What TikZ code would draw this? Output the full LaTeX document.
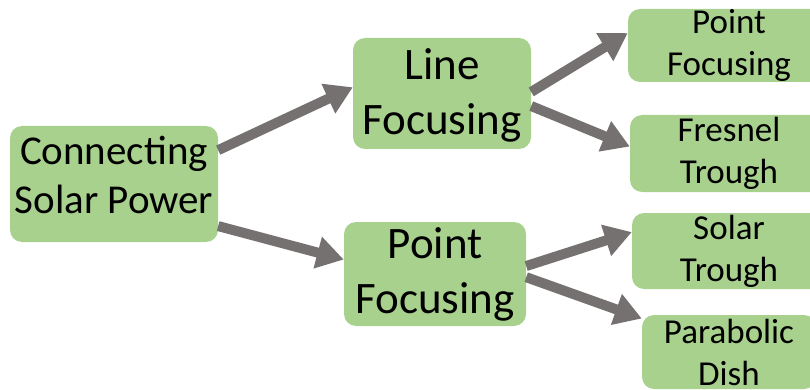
\documentclass[tikz,border=0pt]{standalone}
\usepackage{fontspec}
\setmainfont{Carlito}
\usetikzlibrary{arrows.meta}

\definecolor{boxgreen}{HTML}{A9D18E}
\definecolor{arrowgray}{HTML}{767171}

\tikzset{
  box/.style={rectangle, rounded corners=12pt, fill=boxgreen, draw=none,
    align=center, inner sep=0pt, text=black},
  rootbox/.style={box, minimum width=208pt, minimum height=116pt,
    font=\fontsize{41}{49}\selectfont},
  midbox/.style={box, minimum width=180pt, minimum height=108pt,
    font=\fontsize{45}{55}\selectfont},
  leafbox/.style={box, minimum height=75pt,
    font=\fontsize{35}{42}\selectfont},
  flow/.style={draw=arrowgray, line width=10pt,
    -{Triangle[length=27pt,width=31pt]}, arrowgray}
}

\begin{document}
\begin{tikzpicture}[x=1pt, y=-1pt]
  \clip (0,0) rectangle (810,390);
  \useasboundingbox (0,0) rectangle (810,390);

  % root of the tree (extra text depth lifts the two lines a little)
  \node[rootbox, text depth=18pt] (root) at (114,184) {Connecting\\Solar Power};

  % two families of collectors
  \node[midbox, minimum width=178pt, minimum height=111pt, text depth=3pt] (line) at (442,93.5) {Line\\Focusing};
  \node[midbox, minimum width=182pt, minimum height=104pt] (point) at (435,274) {Point\\Focusing};

  % individual technologies
  \node[leafbox, minimum width=202pt, minimum height=73pt] (pf) at (729,45.5) {Point\\Focusing};
  \node[leafbox, minimum width=198pt, minimum height=77pt] (fresnel) at (729,153.5) {Fresnel\\Trough};
  \node[leafbox, minimum width=194pt, minimum height=76pt] (solar) at (729,251) {Solar\\Trough};
  \node[leafbox, minimum width=174pt, minimum height=74pt] (dish) at (729,352) {Parabolic\\Dish};

  % connectors
  \draw[flow] (root.18) -- (line.176);
  \draw[flow] (root.-22.5) -- (point.171);
  \draw[flow] (line.1) -- (pf.173);
  \draw[flow] (line.-8.6) -- (fresnel.176);
  \draw[flow] (point.5.6) -- (solar.169.6);
  \draw[flow] (point.-2.5) -- (dish.159);
\end{tikzpicture}
\end{document}
